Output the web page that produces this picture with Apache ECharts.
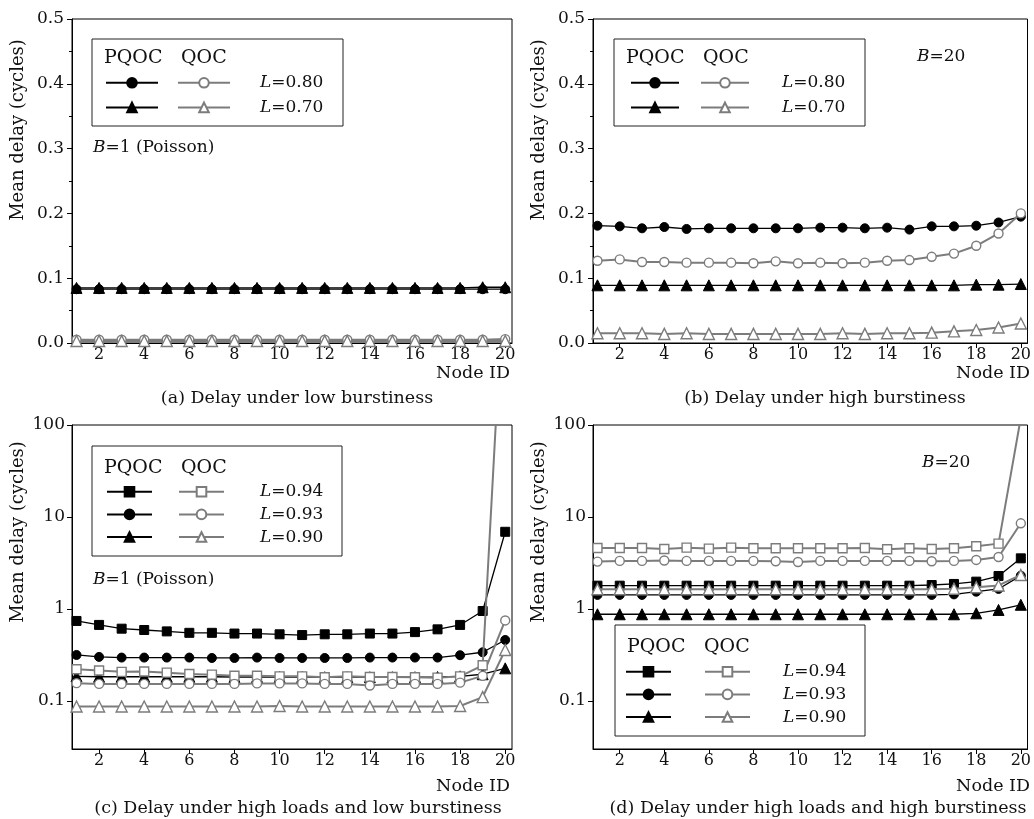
<!DOCTYPE html>
<html>
<head>
<meta charset="utf-8">
<script src="https://cdn.jsdelivr.net/npm/echarts@6/dist/echarts.min.js"></script>
<style>
html, body { margin: 0; padding: 0; background: #fff; }
#chart { width: 1034px; height: 819px; }
</style>
</head>
<body>
<div id="chart"></div>
<script>
// node ids on the x axis
const nodes = [1, 2, 3, 4, 5, 6, 7, 8, 9, 10, 11, 12, 13, 14, 15, 16, 17, 18, 19, 20]
const xTicks = [2, 4, 6, 8, 10, 12, 14, 16, 18, 20]

// (a) low burstiness, B=1
const aPqoc80 = [0.083, 0.083, 0.083, 0.083, 0.083, 0.083, 0.083, 0.083, 0.083, 0.083, 0.083, 0.083, 0.083, 0.083, 0.083, 0.083, 0.083, 0.083, 0.083, 0.083]
const aPqoc70 = [0.085, 0.085, 0.085, 0.085, 0.085, 0.085, 0.085, 0.085, 0.085, 0.085, 0.085, 0.085, 0.085, 0.085, 0.085, 0.085, 0.085, 0.085, 0.086, 0.086]
const aQoc80 = [0.005, 0.005, 0.005, 0.005, 0.005, 0.005, 0.005, 0.005, 0.005, 0.005, 0.005, 0.005, 0.005, 0.005, 0.005, 0.005, 0.005, 0.005, 0.005, 0.006]
const aQoc70 = [0.003, 0.003, 0.003, 0.003, 0.003, 0.003, 0.003, 0.003, 0.003, 0.003, 0.003, 0.003, 0.003, 0.003, 0.003, 0.003, 0.003, 0.003, 0.003, 0.003]

// (b) high burstiness, B=20
const bPqoc80 = [0.181, 0.180, 0.177, 0.179, 0.176, 0.177, 0.177, 0.177, 0.177, 0.177, 0.178, 0.178, 0.177, 0.178, 0.175, 0.180, 0.180, 0.181, 0.186, 0.195]
const bPqoc70 = [0.089, 0.089, 0.089, 0.089, 0.089, 0.089, 0.089, 0.089, 0.089, 0.089, 0.089, 0.089, 0.089, 0.089, 0.089, 0.089, 0.089, 0.090, 0.090, 0.091]
const bQoc80 = [0.127, 0.129, 0.125, 0.125, 0.124, 0.124, 0.124, 0.123, 0.126, 0.123, 0.124, 0.123, 0.124, 0.127, 0.128, 0.133, 0.138, 0.150, 0.169, 0.200]
const bQoc70 = [0.015, 0.015, 0.015, 0.014, 0.015, 0.014, 0.014, 0.014, 0.014, 0.014, 0.014, 0.015, 0.014, 0.015, 0.015, 0.016, 0.018, 0.020, 0.024, 0.030]

// (c) high loads, low burstiness
const cPqoc94 = [0.74, 0.67, 0.61, 0.59, 0.57, 0.55, 0.55, 0.54, 0.54, 0.53, 0.52, 0.53, 0.53, 0.54, 0.54, 0.56, 0.60, 0.67, 0.95, 6.9]
const cPqoc93 = [0.316, 0.301, 0.296, 0.296, 0.296, 0.296, 0.293, 0.293, 0.296, 0.293, 0.293, 0.293, 0.293, 0.296, 0.296, 0.296, 0.296, 0.314, 0.338, 0.46]
const cPqoc90 = [0.185, 0.183, 0.183, 0.183, 0.183, 0.183, 0.183, 0.182, 0.182, 0.182, 0.182, 0.181, 0.181, 0.181, 0.181, 0.181, 0.182, 0.185, 0.195, 0.226]
const cQoc94 = [0.221, 0.214, 0.207, 0.209, 0.203, 0.196, 0.193, 0.188, 0.188, 0.185, 0.185, 0.181, 0.185, 0.182, 0.182, 0.181, 0.179, 0.185, 0.244, 8000]
const cQoc93 = [0.156, 0.153, 0.153, 0.153, 0.153, 0.153, 0.153, 0.153, 0.155, 0.155, 0.155, 0.153, 0.153, 0.147, 0.153, 0.153, 0.153, 0.158, 0.187, 0.75]
const cQoc90 = [0.087, 0.087, 0.087, 0.087, 0.087, 0.087, 0.087, 0.087, 0.087, 0.088, 0.087, 0.087, 0.087, 0.087, 0.087, 0.087, 0.087, 0.088, 0.110, 0.358]

// (d) high loads, high burstiness
const dPqoc94 = [1.79, 1.79, 1.79, 1.79, 1.79, 1.79, 1.79, 1.79, 1.79, 1.79, 1.79, 1.79, 1.79, 1.79, 1.79, 1.82, 1.87, 1.98, 2.28, 3.55]
const dPqoc93 = [1.42, 1.42, 1.42, 1.42, 1.42, 1.42, 1.42, 1.42, 1.42, 1.42, 1.42, 1.42, 1.42, 1.42, 1.42, 1.42, 1.44, 1.54, 1.65, 2.30]
const dPqoc90 = [0.875, 0.875, 0.875, 0.875, 0.875, 0.875, 0.875, 0.875, 0.875, 0.875, 0.875, 0.875, 0.875, 0.875, 0.875, 0.875, 0.875, 0.897, 0.975, 1.11]
const dQoc94 = [4.60, 4.60, 4.60, 4.49, 4.64, 4.53, 4.64, 4.57, 4.57, 4.57, 4.57, 4.57, 4.60, 4.45, 4.57, 4.49, 4.57, 4.80, 5.13, 120]
const dQoc93 = [3.27, 3.33, 3.33, 3.36, 3.33, 3.33, 3.33, 3.33, 3.30, 3.24, 3.33, 3.33, 3.33, 3.33, 3.33, 3.30, 3.33, 3.41, 3.67, 8.53]
const dQoc90 = [1.64, 1.64, 1.64, 1.64, 1.64, 1.64, 1.64, 1.64, 1.64, 1.64, 1.64, 1.64, 1.64, 1.64, 1.64, 1.64, 1.66, 1.72, 1.80, 2.34]

const FONT = 'DejaVu Serif'
const BLACK = '#000'
const GRAY = '#7c7c7c'
const TEXT = '#111'

const panels = [
  {
    id: 'a', log: false, grid: { left: 72, top: 19, width: 440, height: 324 },
    caption: '(a) Delay under low burstiness', captionX: 297, captionY: 398, nodeY: 373, yTitleY: 130,
    box: [92, 39, 251, 87], rowY: 83, pitch: 25, headY: 58, offP: 13, offQ: 85, legW: 52,
    note: { text: '{i|B}=1 (Poisson)', x: 93, y: 148 },
    rows: [
      { load: '0.80', symbol: 'circle', pqoc: aPqoc80, qoc: aQoc80 },
      { load: '0.70', symbol: 'triangle', pqoc: aPqoc70, qoc: aQoc70 }
    ]
  },
  {
    id: 'b', log: false, grid: { left: 593, top: 19, width: 439, height: 324 },
    caption: '(b) Delay under high burstiness', captionX: 825, captionY: 398, nodeY: 373, yTitleY: 130,
    box: [614, 39, 251, 87], rowY: 83, pitch: 25, headY: 58, offP: 16, offQ: 86, legW: 48,
    note: { text: '{i|B}=20', x: 917, y: 57 },
    rows: [
      { load: '0.80', symbol: 'circle', pqoc: bPqoc80, qoc: bQoc80 },
      { load: '0.70', symbol: 'triangle', pqoc: bPqoc70, qoc: bQoc70 }
    ]
  },
  {
    id: 'c', log: true, grid: { left: 72, top: 425, width: 440, height: 324 },
    caption: '(c) Delay under high loads and low burstiness', captionX: 298, captionY: 808, nodeY: 786, yTitleY: 532,
    box: [92, 446, 250, 110], rowY: 492, pitch: 23, headY: 468, offP: 14, offQ: 86, legW: 45,
    note: { text: '{i|B}=1 (Poisson)', x: 93, y: 580 },
    rows: [
      { load: '0.94', symbol: 'rect', pqoc: cPqoc94, qoc: cQoc94 },
      { load: '0.93', symbol: 'circle', pqoc: cPqoc93, qoc: cQoc93 },
      { load: '0.90', symbol: 'triangle', pqoc: cPqoc90, qoc: cQoc90 }
    ]
  },
  {
    id: 'd', log: true, grid: { left: 593, top: 425, width: 439, height: 324 },
    caption: '(d) Delay under high loads and high burstiness', captionX: 818, captionY: 808, nodeY: 786, yTitleY: 532,
    box: [615, 625, 250, 111], rowY: 672, pitch: 23, headY: 647, offP: 10, offQ: 89, legW: 45,
    note: { text: '{i|B}=20', x: 922, y: 463 },
    rows: [
      { load: '0.94', symbol: 'rect', pqoc: dPqoc94, qoc: dQoc94 },
      { load: '0.93', symbol: 'circle', pqoc: dPqoc93, qoc: dQoc93 },
      { load: '0.90', symbol: 'triangle', pqoc: dPqoc90, qoc: dQoc90 }
    ]
  }
]

const symbolSizes = { circle: 9, triangle: 11, rect: 9 }
const ITEM_H = 12
const italicRich = { i: { fontFamily: FONT, fontStyle: 'italic', fontSize: 17, color: TEXT } }

const grids = []
const xAxes = []
const yAxes = []
const series = []
const legends = []
const graphics = []

function textEl (x, y, text, size, align, extra) {
  return {
    type: 'text', x: x, y: y, z: 10, ...extra,
    style: {
      text: text, font: size + 'px "' + FONT + '"', fill: TEXT,
      align: align, verticalAlign: 'middle', rich: italicRich
    }
  }
}

panels.forEach((p, idx) => {
  grids.push({ ...p.grid, show: true, borderColor: BLACK, borderWidth: 1, backgroundColor: 'transparent' })

  xAxes.push({
    gridIndex: idx, type: 'value', min: 0.8, max: 20.3,
    axisLine: { show: true, onZero: false, lineStyle: { color: BLACK, width: 1 } },
    axisTick: { show: true, length: 5, customValues: xTicks, lineStyle: { color: BLACK } },
    axisLabel: { customValues: xTicks, margin: 4, fontFamily: FONT, fontSize: 16, color: TEXT },
    splitLine: { show: false }
  })

  if (p.log) {
    yAxes.push({
      gridIndex: idx, type: 'log', logBase: 10, min: 0.03, max: 100,
      axisLine: { show: true, onZero: false, lineStyle: { color: BLACK, width: 1 } },
      axisTick: { show: true, length: 5, lineStyle: { color: BLACK } },
      axisLabel: {
        showMinLabel: false, margin: 7, fontFamily: FONT, fontSize: 17, color: TEXT,
        formatter: v => String(+v.toPrecision(3))
      },
      splitLine: { show: false }
    })
  } else {
    yAxes.push({
      gridIndex: idx, type: 'value', min: 0, max: 0.5, interval: 0.1,
      axisLine: { show: true, onZero: false, lineStyle: { color: BLACK, width: 1 } },
      axisTick: { show: true, length: 5, lineStyle: { color: BLACK } },
      minorTick: { show: true, splitNumber: 2, length: 3, lineStyle: { color: BLACK } },
      axisLabel: { margin: 8, fontFamily: FONT, fontSize: 17, color: TEXT, formatter: v => v.toFixed(1) },
      splitLine: { show: false }
    })
  }

  const pNames = []
  const qNames = []
  p.rows.forEach(r => {
    const pn = p.id + ' PQOC L=' + r.load
    pNames.push(pn)
    series.push({
      name: pn, type: 'line', xAxisIndex: idx, yAxisIndex: idx,
      data: nodes.map((n, i) => [n, r.pqoc[i]]),
      symbol: r.symbol, symbolSize: symbolSizes[r.symbol], showAllSymbol: true,
      lineStyle: { color: BLACK, width: 1.3 },
      itemStyle: { color: BLACK, borderColor: BLACK, borderWidth: 1 },
      emphasis: { disabled: true }, animation: false, z: 3
    })
  })
  p.rows.forEach((r, k) => {
    const qn = p.id + ' QOC L=' + r.load
    qNames.push(qn)
    series.push({
      name: qn, type: 'line', xAxisIndex: idx, yAxisIndex: idx,
      data: nodes.map((n, i) => [n, r.qoc[i]]),
      symbol: r.symbol, symbolSize: symbolSizes[r.symbol], showAllSymbol: true,
      lineStyle: { color: GRAY, width: 2 },
      itemStyle: { color: '#fff', borderColor: GRAY, borderWidth: 1.4 },
      emphasis: { disabled: true }, animation: false, z: 4
    })
    // load label to the right of the legend row
    graphics.push(textEl(p.box[0] + 168, p.rowY + k * p.pitch, '{i|L}=' + r.load, 17, 'left'))
  })

  const legendBase = {
    orient: 'vertical', selectedMode: false, padding: 0,
    itemWidth: p.legW, itemHeight: ITEM_H, itemGap: p.pitch - ITEM_H,
    top: p.rowY - ITEM_H / 2,
    formatter: () => '',
    textStyle: { fontSize: 10, lineHeight: ITEM_H }
  }
  legends.push({ ...legendBase, left: p.box[0] + p.offP, data: pNames })
  legends.push({ ...legendBase, left: p.box[0] + p.offQ, data: qNames })

  graphics.push({
    type: 'rect', shape: { x: p.box[0], y: p.box[1], width: p.box[2], height: p.box[3] },
    style: { fill: 'none', stroke: '#222', lineWidth: 1 }, z: 10
  })
  graphics.push(textEl(p.box[0] + 12, p.headY, 'PQOC', 19, 'left'))
  graphics.push(textEl(p.box[0] + 89, p.headY, 'QOC', 19, 'left'))
  graphics.push(textEl(p.note.x, p.note.y, p.note.text, 17, 'left'))
  graphics.push(textEl(p.grid.left - 54, p.yTitleY, 'Mean delay (cycles)', 18, 'center', { rotation: Math.PI / 2 }))
  graphics.push(textEl(p.grid.left + p.grid.width - 2, p.nodeY, 'Node ID', 17.5, 'right'))
  graphics.push(textEl(p.captionX, p.captionY, p.caption, 17.5, 'center'))
})

const chart = echarts.init(document.getElementById('chart'), null, { renderer: 'canvas' })
chart.setOption({
  backgroundColor: '#fff',
  animation: false,
  grid: grids,
  xAxis: xAxes,
  yAxis: yAxes,
  legend: legends,
  series: series,
  graphic: graphics
})
</script>
</body>
</html>
